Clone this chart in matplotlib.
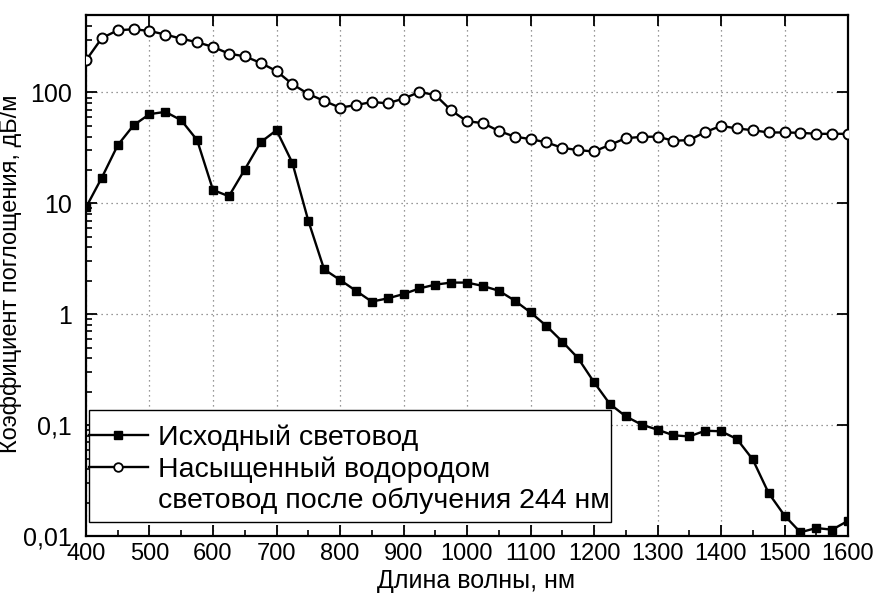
import matplotlib
matplotlib.use("Agg")
import matplotlib.pyplot as plt
from matplotlib.lines import Line2D
from matplotlib.patches import Rectangle
from matplotlib.ticker import FixedLocator, FixedFormatter, LogLocator, NullFormatter, MultipleLocator

plt.rcParams['font.family'] = ['Liberation Sans', 'DejaVu Sans']

# wavelength grid (nm)
wl = list(range(400, 1601, 25))

# initial fibre (filled squares), dB/m
orig = [9.2, 17.1, 33.5, 50.7, 63.8, 66.9, 56.2, 37.2, 13.2, 11.6,
        20.2, 35.6, 45.7, 23.2, 7.0, 2.54, 2.04, 1.63, 1.30, 1.39,
        1.52, 1.71, 1.85, 1.93, 1.93, 1.80, 1.63, 1.33, 1.04, 0.785,
        0.567, 0.401, 0.244, 0.155, 0.120, 0.101, 0.091, 0.081, 0.079, 0.089,
        0.088, 0.075, 0.049, 0.0244, 0.0153, 0.0108, 0.0118, 0.0114, 0.0137]

# hydrogen loaded fibre after 244 nm irradiation (open circles), dB/m
hyd = [195, 310, 364, 372, 359, 333, 306, 284, 258, 224,
       212, 185, 156, 119, 97, 84, 73, 77, 82, 80,
       88, 101, 95, 69, 55, 53, 45, 40, 38, 35.5,
       31.7, 30.2, 29.4, 33.7, 38.7, 39.8, 40, 36.7, 37.2, 43.9,
       50, 47.4, 45.7, 43.6, 43.6, 43.3, 42.4, 42.4, 42.4]

label_orig = "Исходный световод"
label_hyd1 = "Насыщенный водородом"
label_hyd2 = "световод после облучения 244 нм"

y_ticks = [0.01, 0.1, 1, 10, 100]
y_ticklabels = ["0,01", "0,1", "1", "10", "100"]
x_ticks = list(range(400, 1601, 100))

fig = plt.figure(figsize=(8.76, 5.94), dpi=100)
ax = fig.add_axes([86/876, 1-536/594, 762/876, 521/594])

ax.plot(wl, orig, color='black', lw=1.7, marker='s', ms=6.2, mfc='black',
        mec='black', zorder=3)
ax.plot(wl, hyd, color='black', lw=1.7, marker='o', ms=7.2, mfc='white',
        mec='black', mew=1.4, zorder=3)

ax.set_yscale('log')
ax.set_xlim(400, 1600)
ax.set_ylim(0.01, 500)

ax.yaxis.set_major_locator(FixedLocator(y_ticks))
ax.yaxis.set_major_formatter(FixedFormatter(y_ticklabels))
ax.yaxis.set_minor_locator(LogLocator(base=10, subs=range(2, 10)))
ax.yaxis.set_minor_formatter(NullFormatter())
ax.xaxis.set_major_locator(FixedLocator(x_ticks))
ax.xaxis.set_minor_locator(MultipleLocator(50))

ax.grid(True, which='major', color='#777777', linestyle=(0, (1, 3)), lw=0.9)

ax.tick_params(axis='both', which='major', direction='in', length=8, width=1.3,
               top=True, right=True, color='black')
ax.tick_params(axis='y', which='minor', direction='in', length=4.5, width=1.2,
               left=True, right=False)
ax.tick_params(axis='x', which='minor', direction='in', length=4.5, width=1.2,
               bottom=True, top=False)
ax.tick_params(axis='y', which='major', pad=10, labelsize=18)
ax.tick_params(axis='x', which='major', pad=5, labelsize=17)

for sp in ax.spines.values():
    sp.set_linewidth(1.6)

ax.set_xlabel("Длина волны, нм", fontsize=18)
ax.xaxis.set_label_coords(0.512, -0.063)
ax.set_ylabel("Коэффициент поглощения, дБ/м", fontsize=17)
ax.yaxis.set_label_coords(-0.084, 0.504)

# legend drawn as a framed box (positions in axes fraction)
ax.add_patch(Rectangle((0.0039, 0.0269), 0.6851, 0.2149, transform=ax.transAxes,
                       facecolor='white', edgecolor='black', lw=1.0, zorder=5,
                       clip_on=False))
ax.add_line(Line2D([0.0039, 0.0814], [0.1939, 0.1939], transform=ax.transAxes,
                   color='black', lw=1.7, zorder=6, clip_on=False))
ax.add_line(Line2D([0.042], [0.1939], transform=ax.transAxes, color='black',
                   marker='s', ms=5.5, mfc='black', linestyle='none', zorder=7,
                   clip_on=False))
ax.add_line(Line2D([0.0039, 0.0814], [0.1324, 0.1324], transform=ax.transAxes,
                   color='black', lw=1.7, zorder=6, clip_on=False))
ax.add_line(Line2D([0.042], [0.1324], transform=ax.transAxes, color='black',
                   marker='o', ms=6.2, mfc='white', mew=1.3, linestyle='none',
                   zorder=7, clip_on=False))
for txt, yb in [(label_orig, 0.1747), (label_hyd1, 0.1142), (label_hyd2, 0.0547)]:
    ax.text(0.0945, yb, txt, transform=ax.transAxes, fontsize=20.5,
            va='baseline', ha='left', zorder=8)

fig.savefig("out.png", dpi=100)
